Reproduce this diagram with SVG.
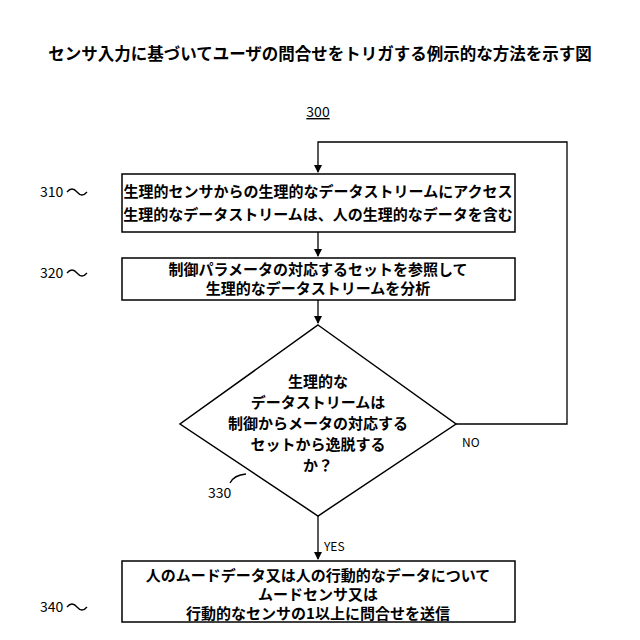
<svg xmlns="http://www.w3.org/2000/svg" width="640" height="640" viewBox="0 0 640 640">
<style>
text{font-family:"Noto Sans CJK JP","Noto Sans",sans-serif;fill:#000}
.t{font-size:15px;font-weight:bold}
.n{font-size:14px}
.s{fill:#fff;stroke:#000;stroke-width:1.5}
.c{fill:none;stroke:#000;stroke-width:1.3}
</style>
<defs><marker id="a" markerWidth="8" markerHeight="8" refX="7" refY="4" orient="auto" markerUnits="userSpaceOnUse"><path d="M0,0 L8,4 L0,8 Z" fill="#000"/></marker></defs>
<rect width="640" height="640" fill="#fff"/>
<text x="320" y="60" text-anchor="middle" style="font-size:16.5px;font-weight:bold">センサ入力に基づいてユーザの問合せをトリガする例示的な方法を示す図</text>
<text x="318" y="117" text-anchor="middle" class="n" style="text-decoration:underline">300</text>
<g id="connectors">
<path class="c" d="M318,232 V256" marker-end="url(#a)"/>
<path class="c" d="M318,300 V323" marker-end="url(#a)"/>
<path class="c" d="M318,516 V559" marker-end="url(#a)"/>
<path class="c" d="M456,424 H567 V142 H318 V172" marker-end="url(#a)"/>
<text x="462" y="447" class="n" style="font-size:12px">NO</text>
<text x="324" y="551" class="n" style="font-size:12px">YES</text>
</g>
<g id="n310"><rect class="s" x="122" y="174" width="393" height="58"/>
<text x="318" y="197" text-anchor="middle" class="t">生理的センサからの生理的なデータストリームにアクセス</text>
<text x="318" y="220" text-anchor="middle" class="t">生理的なデータストリームは、人の生理的なデータを含む</text>
<text x="40" y="197" class="n">310</text><path class="c" d="M67,192 q5,-6 10,0 t10,0"/></g>
<g id="n320"><rect class="s" x="122" y="258" width="393" height="42"/>
<text x="318" y="275" text-anchor="middle" class="t">制御パラメータの対応するセットを参照して</text>
<text x="318" y="294" text-anchor="middle" class="t">生理的なデータストリームを分析</text>
<text x="40" y="278" class="n">320</text><path class="c" d="M67,273 q5,-6 10,0 t10,0"/></g>
<g id="n330"><path class="s" d="M318,325 L456,424 L318,516 L180,424 Z"/>
<text x="318" y="387" text-anchor="middle" class="t">生理的な</text>
<text x="318" y="408" text-anchor="middle" class="t">データストリームは</text>
<text x="318" y="429" text-anchor="middle" class="t">制御からメータの対応する</text>
<text x="318" y="450" text-anchor="middle" class="t">セットから逸脱する</text>
<text x="318" y="471" text-anchor="middle" class="t">か？</text>
<text x="208" y="498" class="n">330</text><path class="c" d="M230,483 q4,-8 16,-9"/></g>
<g id="n340"><rect class="s" x="122" y="561" width="393" height="61"/>
<text x="318" y="581" text-anchor="middle" class="t">人のムードデータ又は人の行動的なデータについて</text>
<text x="318" y="600" text-anchor="middle" class="t">ムードセンサ又は</text>
<text x="318" y="619" text-anchor="middle" class="t">行動的なセンサの1以上に問合せを送信</text>
<text x="40" y="612" class="n">340</text><path class="c" d="M67,607 q5,-6 10,0 t10,0"/></g>
</svg>
